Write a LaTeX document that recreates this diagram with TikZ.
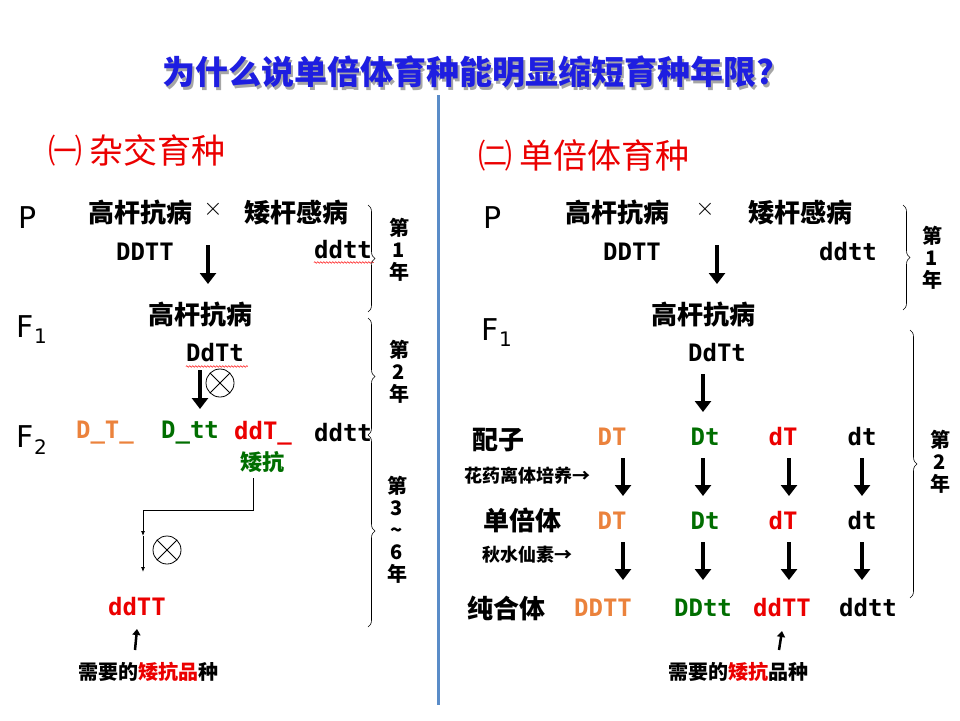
\documentclass[tikz,border=0pt]{standalone}
\usepackage{fontspec}
\setmainfont{DejaVu Sans}
\newfontfamily\cjk{Noto Sans CJK SC}
\newfontfamily\geno{DejaVu Sans Mono}
\usetikzlibrary{arrows.meta,decorations.pathreplacing,decorations.pathmorphing}
\definecolor{gorange}{RGB}{235,130,60}
\definecolor{ggreen}{RGB}{0,110,0}
\definecolor{gred}{RGB}{235,0,0}
\definecolor{tblue}{RGB}{30,30,225}
\definecolor{rule}{RGB}{90,140,200}
\tikzset{
  cn/.style={font=\cjk\bfseries\fontsize{26}{26}\selectfont, inner sep=0pt},
  gt/.style={font=\geno\bfseries\fontsize{24}{24}\selectfont, inner sep=0pt},
  gen/.style={font=\fontsize{30}{30}\selectfont, inner sep=0pt},
  small/.style={font=\cjk\bfseries\fontsize{18}{18}\selectfont, inner sep=0pt},
  yr/.style={font=\cjk\bfseries\fontsize{20}{22}\selectfont, align=center, inner sep=0pt},
  bigarrow/.style={line width=4pt, -{Triangle[width=16pt,length=11pt]}},
  thinarrow/.style={line width=2.5pt, -{Triangle[width=8pt,length=6pt]}},
  yrbrace/.style={decorate, decoration={brace, amplitude=7pt}, line width=0.6pt},
  wavy/.style={draw=red, line width=0.5pt, decorate, decoration={snake, amplitude=0.8pt, segment length=3pt}},
  selfx/.style={circle, draw, line width=0.8pt, minimum size=28pt, inner sep=0pt,
    path picture={\draw[line width=0.8pt] (path picture bounding box.north west) -- (path picture bounding box.south east)
    (path picture bounding box.north east) -- (path picture bounding box.south west);}},
}
\begin{document}
\begin{tikzpicture}[x=1pt,y=-1pt]
  \useasboundingbox (0,0) rectangle (960,720);
  % title
  \node[font=\cjk\bfseries\fontsize{33}{33}\selectfont, text=black!35, inner sep=0pt] at (470,75) {为什么说单倍体育种能明显缩短育种年限?};
  \node[font=\cjk\bfseries\fontsize{33}{33}\selectfont, text=tblue, inner sep=0pt] (title) at (468,72) {为什么说单倍体育种能明显缩短育种年限?};
  \draw[rule, line width=3pt] (438,95) -- (438,705);
  \node[font=\cjk\fontsize{34}{34}\selectfont, text=gred, anchor=west, inner sep=0pt] (lhead) at (48,150) {㈠ 杂交育种};
  \node[font=\cjk\fontsize{34}{34}\selectfont, text=gred, anchor=west, inner sep=0pt] (rhead) at (478,155) {㈡ 单倍体育种};

  % left: cross breeding
  \node[gen] (lp) at (28,218) {P};
  \node[cn] (lpa) at (140,213) {高杆抗病};
  \node[font=\fontsize{30}{30}\selectfont, inner sep=0pt] (lx) at (213,209) {$\times$};
  \node[cn] (lpb) at (296,213) {矮杆感病};
  \node[gt] (lpag) at (145,252) {DDTT};
  \node[gt] (lpbg) at (343,250) {ddtt};
  \draw[wavy] (lpbg.south west) ++(0,3) -- ++(60,0);
  \coordinate (la1) at (208,245);
  \coordinate (la2) at (208,284);
  \draw[bigarrow] (la1) -- (la2);
  \node[gen] (lf1) at (32,330) {F\textsubscript{\fontsize{20}{20}\selectfont 1}};
  \node[cn] (lf1a) at (200,315) {高杆抗病};
  \node[gt] (lf1g) at (215,353) {DdTt};
  \draw[wavy] (lf1g.south west) ++(0,4) -- ++(62,0);
  \coordinate (lb1) at (200,370);
  \coordinate (lb2) at (200,409);
  \draw[bigarrow] (lb1) -- (lb2);
  \node[selfx] (ls1) at (220,383) {};
  \node[gen] (lf2) at (32,440) {F\textsubscript{\fontsize{20}{20}\selectfont 2}};
  \node[gt, text=gorange] (lc1) at (105,433) {D\_T\_};
  \node[gt, text=ggreen] (lc2) at (190,433) {D\_tt};
  \node[gt, text=gred] (lc3) at (263,433) {ddT\_};
  \node[gt] (lc4) at (343,433) {ddtt};
  \node[cn, text=ggreen, font=\cjk\bfseries\fontsize{22}{22}\selectfont] (lda) at (262,462) {矮抗};
  \coordinate (lt1) at (253,478);
  \coordinate (lt2) at (143,510);
  \coordinate (lt3) at (143,536);
  \coordinate (lt4) at (143,572);
  \draw[line width=0.8pt, -{Latex[length=5pt,width=4pt]}] (lt1) |- (lt2) -- (lt3);
  \draw[line width=0.8pt, -{Latex[length=5pt,width=4pt]}] (lt3) -- (lt4);
  \node[selfx] (ls2) at (167,550) {};
  \node[gt, text=gred] (lres) at (137,607) {ddTT};
  \coordinate (lu) at (135,650);
  \draw[thinarrow] (lu) -- (lres.south |- 0,629);
  \node[small, font=\cjk\bfseries\fontsize{20}{20}\selectfont] (lneed) at (148,672) {需要的\textcolor{gred}{矮抗品}种};
  \draw[yrbrace] (368,205) -- (368,312);
  \draw[yrbrace] (368,318) -- (368,435);
  \draw[yrbrace] (368,435) -- (368,627);
  \node[yr] (ly1) at (399,250) {第\\1\\年};
  \node[yr] (ly2) at (399,372) {第\\2\\年};
  \node[yr] (ly3) at (397,530) {第\\3\\\textasciitilde\\6\\年};

  % right: haploid breeding
  \node[gen] (rp) at (493,218) {P};
  \node[cn] (rpa) at (617,213) {高杆抗病};
  \node[font=\fontsize{30}{30}\selectfont, inner sep=0pt] (rx) at (705,209) {$\times$};
  \node[cn] (rpb) at (800,213) {矮杆感病};
  \node[gt] (rpag) at (632,252) {DDTT};
  \node[gt] (rpbg) at (848,252) {ddtt};
  \coordinate (ra1) at (717,245);
  \coordinate (ra2) at (717,284);
  \draw[bigarrow] (ra1) -- (ra2);
  \node[gen] (rf1) at (497,333) {F\textsubscript{\fontsize{20}{20}\selectfont 1}};
  \node[cn] (rf1a) at (703,315) {高杆抗病};
  \node[gt] (rf1g) at (717,353) {DdTt};
  \coordinate (rb1) at (703,374);
  \coordinate (rb2) at (703,412);
  \draw[bigarrow] (rb1) -- (rb2);
  \node[cn] (rgam) at (498,440) {配子};
  \node[cn] (rhap) at (522,520) {单倍体};
  \node[cn] (rpure) at (506,608) {纯合体};
  \node[small] (ranth) at (527,476) {花药离体培养→};
  \node[small] (rcol) at (527,555) {秋水仙素→};
  \foreach \x/\g/\c [count=\i] in {612/DT/gorange, 705/Dt/ggreen, 783/dT/gred, 862/dt/black}{
    \node[gt, text=\c] (g\i) at (\x,437) {\g};
    \node[gt, text=\c] (h\i) at (\x,521) {\g};
  }
  \node[gt, text=gorange] (p1) at (603,608) {DDTT};
  \node[gt, text=ggreen] (p2) at (703,608) {DDtt};
  \node[gt, text=gred] (p3) at (782,608) {ddTT};
  \node[gt] (p4) at (868,608) {ddtt};
  \foreach \x in {623,703,789,862}{
    \draw[bigarrow] (\x,458) -- (\x,496);
    \draw[bigarrow] (\x,542) -- (\x,580);
  }
  \coordinate (ru) at (779,650);
  \draw[thinarrow] (ru) -- (p3.south |- 0,631);
  \node[small, font=\cjk\bfseries\fontsize{20}{20}\selectfont] (rneed) at (738,672) {需要的\textcolor{gred}{矮抗}品种};
  \draw[yrbrace] (903,205) -- (903,310);
  \draw[yrbrace] (910,330) -- (910,598);
  \node[yr] (ry1) at (932,258) {第\\1\\年};
  \node[yr] (ry2) at (940,462) {第\\2\\年};
\end{tikzpicture}
\end{document}
